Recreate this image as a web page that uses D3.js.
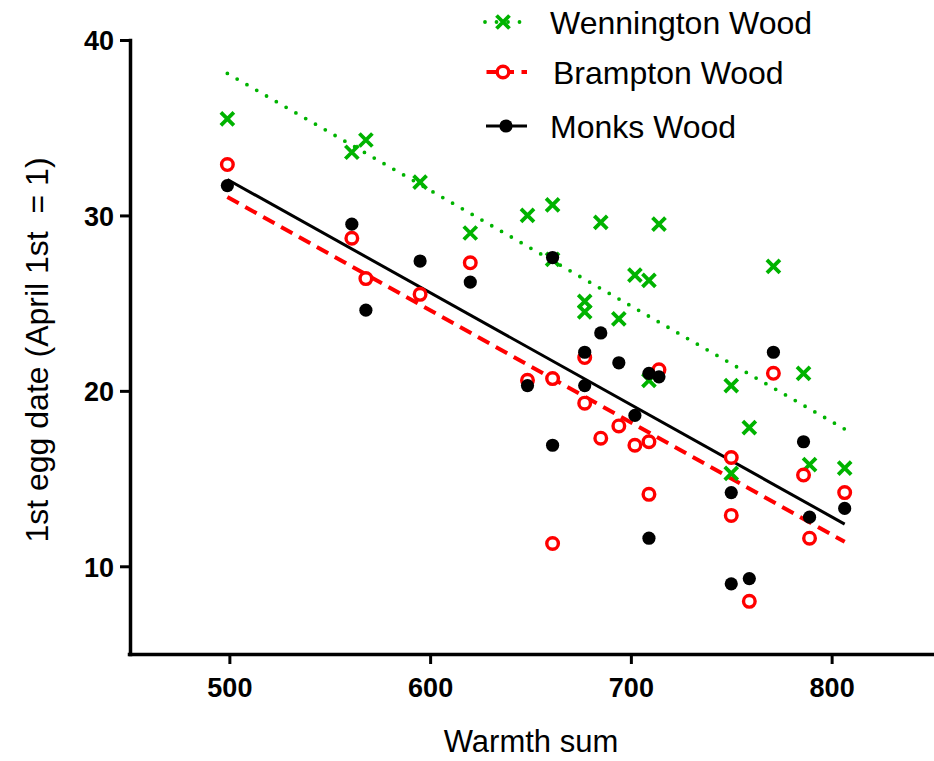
<!DOCTYPE html>
<html>
<head>
<meta charset="utf-8">
<script src="https://cdn.jsdelivr.net/npm/d3@7"></script>
<style>
  html, body { margin: 0; padding: 0; background: #fff; }
  svg { display: block; font-family: "Liberation Sans", Arial, sans-serif; }
  text { white-space: pre; }
</style>
</head>
<body>
<svg id="chart" width="934" height="761"></svg>
<script>
// ---- data ----
const warmth = [499, 561, 568, 595, 620, 648.5, 661, 661, 677, 677, 685, 694, 702, 709, 709, 714, 750, 750, 759, 771, 786, 789, 806.5];
const wennington = [35.5, 33.6, 34.3, 31.9, 29.0, 30.0, 30.6, 27.5, 25.1, 24.5, 29.6, 24.1, 26.6, 26.3, 20.6, 29.5, 20.3, 15.3, 17.9, 27.1, 21.0, 15.8, 15.6];
const brampton   = [32.9, 28.7, 26.4, 25.5, 27.3, 20.6, 20.7, 11.3, 21.9, 19.3, 17.3, 18.0, 16.9, 17.1, 14.1, 21.2, 16.2, 12.9, 8.0, 21.0, 15.2, 11.6, 14.2];
const monks      = [31.7, 29.5, 24.6, 27.4, 26.2, 20.3, 27.6, 16.9, 22.2, 20.3, 23.3, 21.6, 18.6, 21.0, 11.6, 20.8, 14.2, 9.0, 9.3, 22.2, 17.1, 12.8, 13.3];
const seriesNames = ["Wennington Wood", "Brampton Wood", "Monks Wood"];
const xTicks = [500, 600, 700, 800];
const yTicks = [10, 20, 30, 40];
const xTitle = "Warmth sum";
const yTitle = "1st egg date (April 1st  = 1)";

const GREEN = "#00b300", RED = "#ff0000", BLACK = "#000000";

const svg = d3.select("#chart");
const x = d3.scaleLinear().domain([450, 850]).range([129, 932]);
const y = d3.scaleLinear().domain([5, 40]).range([654, 40]);

// ---- axes ----
const xAxis = svg.append("g").attr("transform", "translate(0,654)")
  .call(d3.axisBottom(x).tickValues(xTicks).tickSize(10).tickSizeOuter(0).tickPadding(14));
const yAxis = svg.append("g").attr("transform", "translate(130,0)")
  .call(d3.axisLeft(y).tickValues(yTicks).tickSize(10).tickSizeOuter(0).tickPadding(6));
[xAxis, yAxis].forEach(a => {
  a.select(".domain").attr("stroke", "#000").attr("stroke-width", 3.5).attr("stroke-linecap", "square");
  a.selectAll(".tick line").attr("stroke", "#000").attr("stroke-width", 3);
  a.selectAll(".tick text").attr("fill", "#000").attr("font-size", 27).attr("font-weight", "bold")
    .attr("font-family", "'Liberation Sans', Arial, sans-serif");
});
yAxis.selectAll(".tick text").attr("dy", "0.36em");

svg.append("text").attr("x", 531).attr("y", 752).attr("text-anchor", "middle")
  .attr("font-size", 31).text(xTitle);
svg.append("text").attr("transform", "translate(48,350) rotate(-90)").attr("text-anchor", "middle")
  .attr("font-size", 32).text(yTitle);

// ---- regression lines (least squares on the data) ----
function fit(xs, ys) {
  const mx = d3.mean(xs), my = d3.mean(ys);
  let sxy = 0, sxx = 0;
  xs.forEach((v, i) => { sxy += (v - mx) * (ys[i] - my); sxx += (v - mx) * (v - mx); });
  const b = sxy / sxx, a = my - b * mx;
  const x0 = d3.min(xs), x1 = d3.max(xs);
  return [[x0, a + b * x0], [x1, a + b * x1]];
}
const line = d3.line().x(d => x(d[0])).y(d => y(d[1]));

const styles = [
  { color: GREEN, width: 3.8, dash: "0 11.3", cap: "round" },
  { color: RED, width: 4, dash: "13 7.5", cap: "butt" },
  { color: BLACK, width: 3, dash: null, cap: "butt" }
];
const allSeries = [wennington, brampton, monks];

allSeries.forEach((ys, i) => {
  const s = styles[i];
  svg.append("path").datum(fit(warmth, ys)).attr("d", line)
    .attr("fill", "none").attr("stroke", s.color).attr("stroke-width", s.width)
    .attr("stroke-dasharray", s.dash).attr("stroke-linecap", s.cap);
});

// ---- markers ----
function drawCross(g, cx, cy, color) {
  const h = 6.5;
  g.append("path").attr("d", `M${cx - h},${cy - h}L${cx + h},${cy + h}M${cx - h},${cy + h}L${cx + h},${cy - h}`)
    .attr("stroke", color).attr("stroke-width", 3.8).attr("fill", "none");
}
function drawOpen(g, cx, cy, color) {
  g.append("circle").attr("cx", cx).attr("cy", cy).attr("r", 5.8)
    .attr("fill", "#fff").attr("stroke", color).attr("stroke-width", 3.4);
}
function drawDot(g, cx, cy, color) {
  g.append("circle").attr("cx", cx).attr("cy", cy).attr("r", 6.6).attr("fill", color);
}
const markerFns = [drawCross, drawOpen, drawDot];
const colors = [GREEN, RED, BLACK];

const gm = svg.append("g");
allSeries.forEach((ys, i) => {
  ys.forEach((v, j) => markerFns[i](gm, x(warmth[j]), y(v), colors[i]));
});

// ---- legend ----
const legY = [22, 72, 126];
const legTextX = [550, 553, 550];
const legMarkX = [503, 503, 506];
const lg = svg.append("g");
seriesNames.forEach((name, i) => {
  const s = styles[i];
  lg.append("line").attr("x1", i === 0 ? 485 : 486).attr("x2", 527).attr("y1", legY[i]).attr("y2", legY[i])
    .attr("stroke", s.color).attr("stroke-width", s.width)
    .attr("stroke-dasharray", i === 0 ? "0 11.5" : (i === 1 ? "10 7.5" : null))
    .attr("stroke-dashoffset", i === 1 ? -0.5 : 0)
    .attr("stroke-linecap", s.cap);
  markerFns[i](lg, legMarkX[i], legY[i], colors[i]);
  lg.append("text").attr("x", legTextX[i]).attr("y", legY[i]).attr("dy", "0.36em")
    .attr("font-size", 32).attr("fill", "#000").text(name);
});
</script>
</body>
</html>
